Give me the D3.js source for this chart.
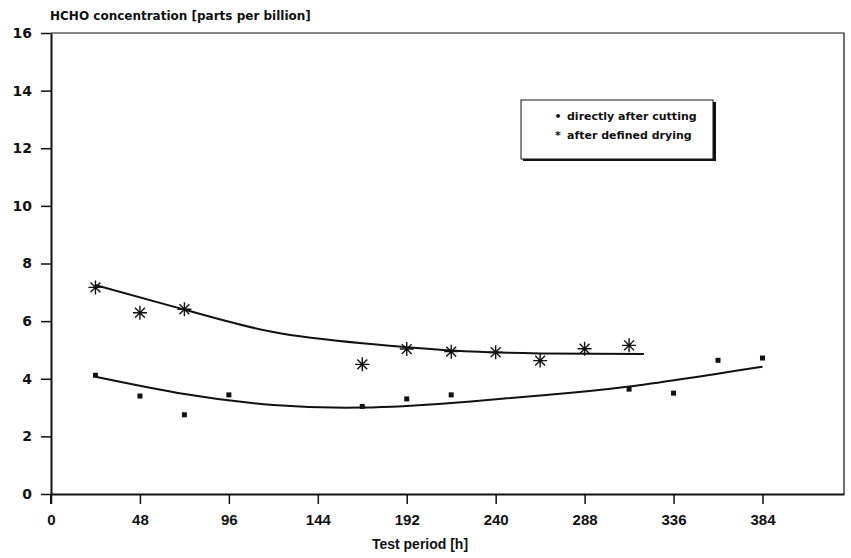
<!DOCTYPE html>
<html>
<head>
<meta charset="utf-8">
<script src="https://cdn.jsdelivr.net/npm/d3@7"></script>
<style>
  body { margin: 0; background: #fff; }
  svg text { font-family: "DejaVu Sans", sans-serif; font-weight: bold; fill: #111; }
</style>
</head>
<body>
<div id="chart"></div>
<script>
const cutHours = [24, 48, 72, 96, 168, 192, 216, 312, 336, 360, 384];
const cutValues = [4.12, 3.40, 2.75, 3.44, 3.04, 3.30, 3.44, 3.64, 3.50, 4.64, 4.72];
const dryHours = [24, 48, 72, 168, 192, 216, 240, 264, 288, 312];
const dryValues = [7.17, 6.29, 6.41, 4.50, 5.03, 4.94, 4.92, 4.63, 5.04, 5.16];

// fitted trend lines as drawn in the reference
const cutFitHours = [24, 72, 120, 168, 216, 264, 312, 384];
const cutFitValues = [4.07, 3.47, 3.09, 3.00, 3.16, 3.42, 3.73, 4.42];
const dryFitHours = [24, 72, 120, 168, 216, 264, 320];
const dryFitValues = [7.25, 6.40, 5.62, 5.23, 4.98, 4.88, 4.86];

const xTicks = [0, 48, 96, 144, 192, 240, 288, 336, 384];
const yTicks = [0, 2, 4, 6, 8, 10, 12, 14, 16];
const legendLabels = ['directly after cutting', 'after defined drying'];

const W = 851, H = 558;
const margin = { top: 33, right: 7, bottom: 64, left: 51 };
const sansFont = '"Liberation Sans", Arial, sans-serif';

const svg = d3.select('#chart').append('svg')
    .attr('width', W)
    .attr('height', H);

const x = d3.scaleLinear().domain([0, 428]).range([margin.left, W - margin.right]);
const y = d3.scaleLinear().domain([0, 16]).range([H - margin.bottom, margin.top]);

// frame (top + right)
svg.append('path')
    .attr('d', `M${x(0)},${y(16)}H${x(428)}V${y(0)}`)
    .attr('fill', 'none')
    .attr('stroke', '#111')
    .attr('stroke-width', 1.2);

// x axis
const xAxis = svg.append('g')
    .attr('transform', `translate(0,${y(0)})`)
    .call(d3.axisBottom(x).tickValues(xTicks).tickSize(10).tickPadding(10).tickSizeOuter(0));
xAxis.select('.domain').attr('stroke', '#111').attr('stroke-width', 2);
xAxis.selectAll('.tick line').attr('stroke', '#111').attr('stroke-width', 1.5);
xAxis.selectAll('.tick text')
    .attr('font-size', 15)
    .style('font-family', sansFont)
    .style('font-weight', 'bold')
    .attr('fill', '#111');

// y axis
const yAxis = svg.append('g')
    .attr('transform', `translate(${x(0)},0)`)
    .call(d3.axisLeft(y).tickValues(yTicks).tickSize(10).tickPadding(9).tickSizeOuter(0));
yAxis.select('.domain').attr('stroke', '#111').attr('stroke-width', 2);
yAxis.selectAll('.tick line').attr('stroke', '#111').attr('stroke-width', 1.5);
yAxis.selectAll('.tick text')
    .attr('font-size', 14)
    .style('font-family', '"DejaVu Sans", sans-serif')
    .style('font-weight', 'bold')
    .attr('fill', '#111');
// y axis line runs a little below 0 like the x ticks
svg.append('line')
    .attr('x1', x(0)).attr('x2', x(0))
    .attr('y1', y(0)).attr('y2', y(0) + 10)
    .attr('stroke', '#111').attr('stroke-width', 2);

// titles
svg.append('text')
    .attr('x', 50)
    .attr('y', 20)
    .attr('font-size', 12)
    .text('HCHO concentration [parts per billion]');

svg.append('text')
    .attr('x', 420)
    .attr('y', 549)
    .attr('text-anchor', 'middle')
    .attr('font-size', 14)
    .style('font-family', sansFont)
    .text('Test period [h]');

// trend lines
const line = d3.line()
    .x(d => x(d[0]))
    .y(d => y(d[1]))
    .curve(d3.curveNatural);

svg.append('path')
    .datum(d3.zip(dryFitHours, dryFitValues))
    .attr('fill', 'none')
    .attr('stroke', '#111')
    .attr('stroke-width', 2)
    .attr('d', line);

svg.append('path')
    .datum(d3.zip(cutFitHours, cutFitValues))
    .attr('fill', 'none')
    .attr('stroke', '#111')
    .attr('stroke-width', 2)
    .attr('d', line);

// square markers
svg.selectAll('.sq')
    .data(d3.zip(cutHours, cutValues))
    .enter()
    .append('rect')
    .attr('class', 'sq')
    .attr('x', d => x(d[0]) - 2.5)
    .attr('y', d => y(d[1]) - 2.5)
    .attr('width', 5)
    .attr('height', 5)
    .attr('fill', '#111');

// star markers (8 arms)
const starPath = (r) => {
    let p = '';
    for (let i = 0; i < 4; i++) {
        const a = i * Math.PI / 4;
        const dx = r * Math.cos(a), dy = r * Math.sin(a);
        p += `M${-dx},${-dy}L${dx},${dy}`;
    }
    return p;
};
svg.selectAll('.star')
    .data(d3.zip(dryHours, dryValues))
    .enter()
    .append('path')
    .attr('class', 'star')
    .attr('transform', d => `translate(${x(d[0])},${y(d[1])})`)
    .attr('d', starPath(7))
    .attr('stroke', '#111')
    .attr('stroke-width', 1.4);

// legend
const lg = svg.append('g').attr('transform', 'translate(521,100)');
lg.append('rect')
    .attr('x', 2).attr('y', 2)
    .attr('width', 193).attr('height', 59)
    .attr('fill', '#111');
lg.append('rect')
    .attr('width', 192).attr('height', 59)
    .attr('fill', '#fff')
    .attr('stroke', '#111')
    .attr('stroke-width', 1);

const legendMarks = ['•', '*'];
legendLabels.forEach((t, i) => {
    lg.append('text')
        .attr('x', 37)
        .attr('y', 20 + i * 19)
        .attr('text-anchor', 'middle')
        .attr('font-size', 11)
        .text(legendMarks[i]);
    lg.append('text')
        .attr('x', 46)
        .attr('y', 20 + i * 19)
        .attr('font-size', 11)
        .text(t);
});
</script>
</body>
</html>
